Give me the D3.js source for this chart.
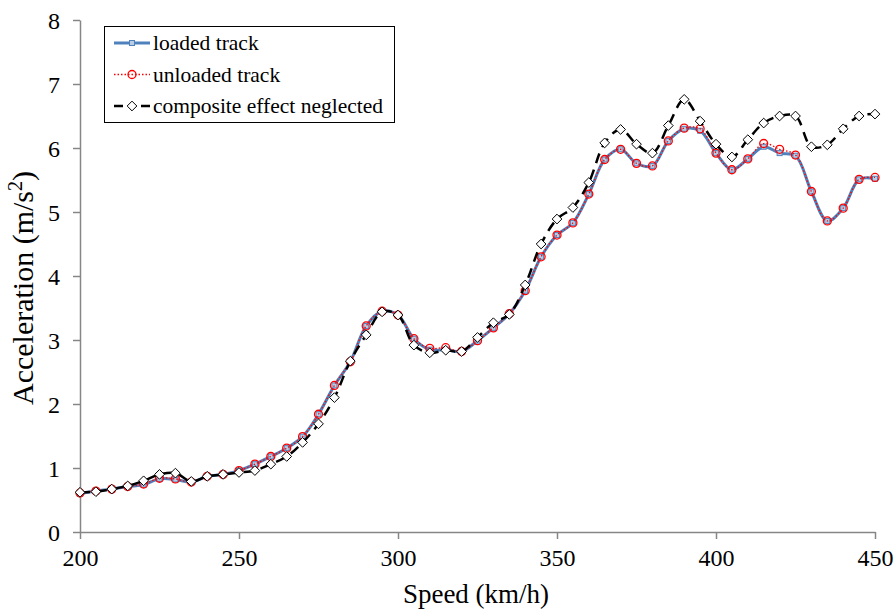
<!DOCTYPE html>
<html>
<head>
<meta charset="utf-8">
<script src="https://cdn.jsdelivr.net/npm/d3@7"></script>
<style>
  body { margin: 0; background: #fff; }
  svg text { font-family: "Times New Roman", Times, "Liberation Serif", serif; fill: #000; }
</style>
</head>
<body>
<svg id="drawing" width="896" height="612"></svg>
<script>
const speeds = d3.range(200, 451, 5);

const loaded = [0.60, 0.64, 0.67, 0.71, 0.74, 0.83, 0.82, 0.78, 0.87, 0.90,
  0.96, 1.06, 1.18, 1.31, 1.49, 1.84, 2.29, 2.66, 3.22, 3.45,
  3.39, 3.02, 2.85, 2.85, 2.82, 2.99, 3.19, 3.41, 3.77, 4.30,
  4.64, 4.83, 5.28, 5.82, 5.98, 5.76, 5.72, 6.11, 6.30, 6.27,
  5.92, 5.66, 5.83, 6.02, 5.92, 5.88, 5.32, 4.86, 5.06, 5.51, 5.52];

const unloaded = [0.61, 0.64, 0.67, 0.71, 0.75, 0.84, 0.83, 0.78, 0.87, 0.90,
  0.96, 1.06, 1.18, 1.31, 1.49, 1.84, 2.29, 2.66, 3.22, 3.45,
  3.39, 3.02, 2.87, 2.88, 2.82, 2.99, 3.19, 3.41, 3.77, 4.30,
  4.64, 4.83, 5.28, 5.82, 5.98, 5.76, 5.72, 6.11, 6.31, 6.30,
  5.92, 5.66, 5.83, 6.07, 5.98, 5.89, 5.32, 4.86, 5.06, 5.51, 5.54];

const composite = [0.62, 0.63, 0.67, 0.72, 0.80, 0.90, 0.92, 0.79, 0.87, 0.90,
  0.93, 0.96, 1.06, 1.18, 1.40, 1.69, 2.10, 2.67, 3.08, 3.44,
  3.39, 2.92, 2.80, 2.84, 2.82, 3.04, 3.27, 3.40, 3.86, 4.50,
  4.89, 5.07, 5.46, 6.08, 6.29, 6.06, 5.92, 6.35, 6.76, 6.42,
  6.06, 5.86, 6.13, 6.39, 6.50, 6.50, 6.02, 6.05, 6.30, 6.50, 6.53];

const xTicks = [200, 250, 300, 350, 400, 450];
const yTicks = [0, 1, 2, 3, 4, 5, 6, 7, 8];

const svg = d3.select("svg#drawing");
const axisColor = "#868686";
const serif = '"Times New Roman", Times, "Liberation Serif", serif';

const x = d3.scaleLinear().domain([200, 450]).range([80, 875]);
const y = d3.scaleLinear().domain([0, 8]).range([532, 20]);

// axes
const xAxis = svg.append("g")
  .attr("transform", "translate(0,532)")
  .call(d3.axisBottom(x).tickValues(xTicks).tickSize(7).tickPadding(10).tickSizeOuter(0));
const yAxis = svg.append("g")
  .attr("transform", "translate(80,0)")
  .call(d3.axisLeft(y).tickValues(yTicks).tickSize(7).tickPadding(13).tickSizeOuter(0));

[xAxis, yAxis].forEach(g => {
  g.attr("font-family", serif).attr("font-size", 24);
  g.select(".domain").attr("stroke", axisColor).attr("stroke-width", 1.5);
  g.selectAll(".tick line").attr("stroke", axisColor).attr("stroke-width", 1.5);
  g.selectAll(".tick text").attr("fill", "#000");
});
yAxis.selectAll(".tick text").attr("dy", "0.36em");

// axis titles
svg.append("text")
  .attr("x", 476).attr("y", 603)
  .attr("text-anchor", "middle")
  .style("font-size", "27px")
  .text("Speed (km/h)");

const yt = svg.append("text")
  .attr("transform", "translate(33,288) rotate(-90)")
  .attr("text-anchor", "middle")
  .style("font-size", "30px");
yt.append("tspan").text("Acceleration (m/s");
yt.append("tspan").attr("dy", -11).style("font-size", "20px").text("2");
yt.append("tspan").attr("dy", 11).text(")");

// series
const series = [
  { name: "loaded track", values: loaded, color: "#4F81BD", width: 3, dash: null, marker: "square" },
  { name: "unloaded track", values: unloaded, color: "#FF0000", width: 1.3, dash: "1.5,2", marker: "circle" },
  { name: "composite effect neglected", values: composite, color: "#000", width: 2.5, dash: "10,7", marker: "diamond" }
];

const line = d3.line()
  .x(d => x(d[0]))
  .y(d => y(d[1]))
  .curve(d3.curveCatmullRom.alpha(0.5));

function drawMarker(g, s, cx, cy) {
  if (s.marker === "square") {
    g.append("rect")
      .attr("x", cx - 2.5).attr("y", cy - 2.5)
      .attr("width", 5).attr("height", 5)
      .attr("fill", "#B9CDE5").attr("stroke", s.color).attr("stroke-width", 1);
  } else if (s.marker === "circle") {
    g.append("circle")
      .attr("cx", cx).attr("cy", cy).attr("r", 4)
      .attr("fill", "none").attr("stroke", s.color).attr("stroke-width", 1.3);
  } else {
    g.append("path")
      .attr("d", d3.symbol(d3.symbolDiamond2, 60)())
      .attr("transform", `translate(${cx},${cy})`)
      .attr("fill", "#fff").attr("stroke", "#000").attr("stroke-width", 1);
  }
}

series.forEach(s => {
  const pts = speeds.map((v, i) => [v, s.values[i]]);
  const g = svg.append("g");
  g.append("path")
    .attr("d", line(pts))
    .attr("fill", "none")
    .attr("stroke", s.color)
    .attr("stroke-width", s.width)
    .attr("stroke-dasharray", s.dash);
  pts.forEach(p => drawMarker(g, s, x(p[0]), y(p[1])));
});

// legend
const lg = svg.append("g");
lg.append("rect")
  .attr("x", 104.5).attr("y", 26.5).attr("width", 290).attr("height", 96)
  .attr("fill", "#fff").attr("stroke", "#000").attr("stroke-width", 1);

series.forEach((s, i) => {
  const cy = 43 + i * 31.5;
  lg.append("line")
    .attr("x1", 114).attr("x2", 150).attr("y1", cy).attr("y2", cy)
    .attr("stroke", s.color).attr("stroke-width", s.width)
    .attr("stroke-dasharray", s.dash ? (s.marker === "diamond" ? "9,18" : s.dash) : null);
  drawMarker(lg, s, 132, cy);
  lg.append("text")
    .attr("x", 153).attr("y", cy + 7)
    .style("font-size", "21.5px")
    .text(s.name);
});
</script>
</body>
</html>
